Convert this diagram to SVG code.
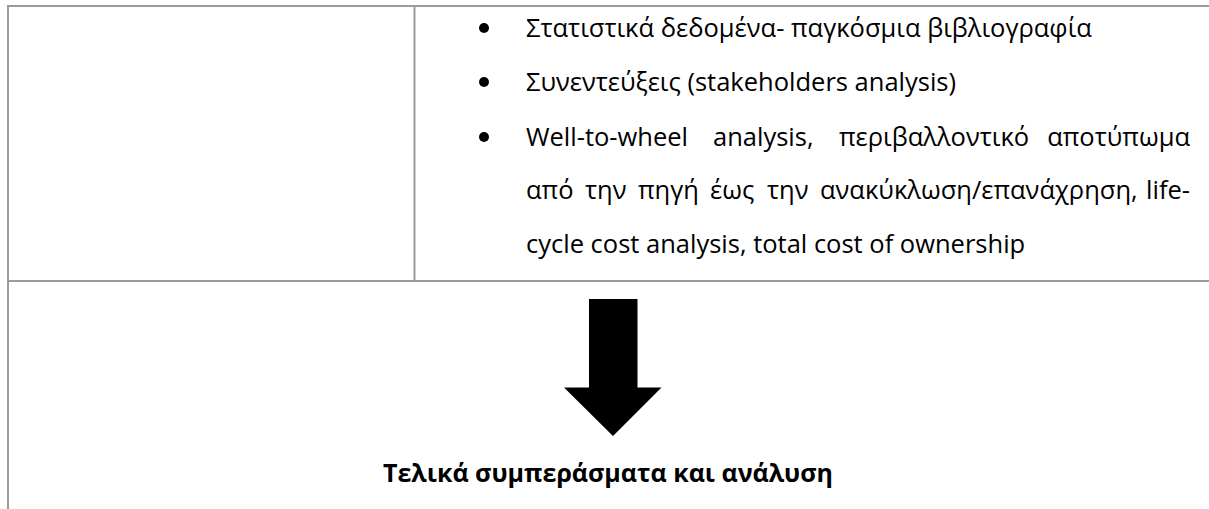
<svg xmlns="http://www.w3.org/2000/svg" width="1209" height="509" viewBox="0 0 1209 509">
<style>
.b{stroke:#9b9b9b;stroke-width:2;fill:none}
.t{font-family:"Open Sans","Noto Sans","DejaVu Sans",sans-serif;font-size:25.5px;fill:#000}
.bd{font-weight:bold;font-size:25px}
.e{text-anchor:end}
</style>
<rect width="1209" height="509" fill="#fff"/>
<g id="table">
<line class="b" x1="7" y1="6" x2="1209" y2="6"/>
<line class="b" x1="8" y1="5" x2="8" y2="509"/>
<line class="b" x1="414.5" y1="6" x2="414.5" y2="281"/>
<line class="b" x1="7" y1="281" x2="1209" y2="281"/>
</g>
<g id="methods">
<circle cx="484" cy="28" r="5"/>
<circle cx="484" cy="82" r="5"/>
<circle cx="484" cy="137" r="5"/>
<text class="t" x="526" y="37">Στατιστικά δεδομένα- παγκόσμια βιβλιογραφία</text>
<text class="t" x="526" y="91">Συνεντεύξεις (stakeholders analysis)</text>
<text class="t" x="526" y="146">Well-to-wheel</text>
<text class="t" x="713" y="146">analysis,</text>
<text class="t" x="839" y="146">περιβαλλοντικό</text>
<text class="t e" x="1190" y="146">αποτύπωμα</text>
<text class="t" x="526" y="199">από</text>
<text class="t" x="585" y="199">την</text>
<text class="t" x="638" y="199">πηγή</text>
<text class="t" x="710" y="199">έως</text>
<text class="t" x="767" y="199">την</text>
<text class="t" x="820" y="199">ανακύκλωση/επανάχρηση,</text>
<text class="t e" x="1190" y="199">life-</text>
<text class="t" x="526" y="253">cycle cost analysis, total cost of ownership</text>
</g>
<g id="arrow">
<polygon points="589,299 637.5,299 637.5,387.5 661.5,387.5 613,436 564,387.5 589,387.5"/>
</g>
<g id="conclusion">
<text class="t bd" x="608" y="482" text-anchor="middle">Τελικά συμπεράσματα και ανάλυση</text>
</g>
</svg>
